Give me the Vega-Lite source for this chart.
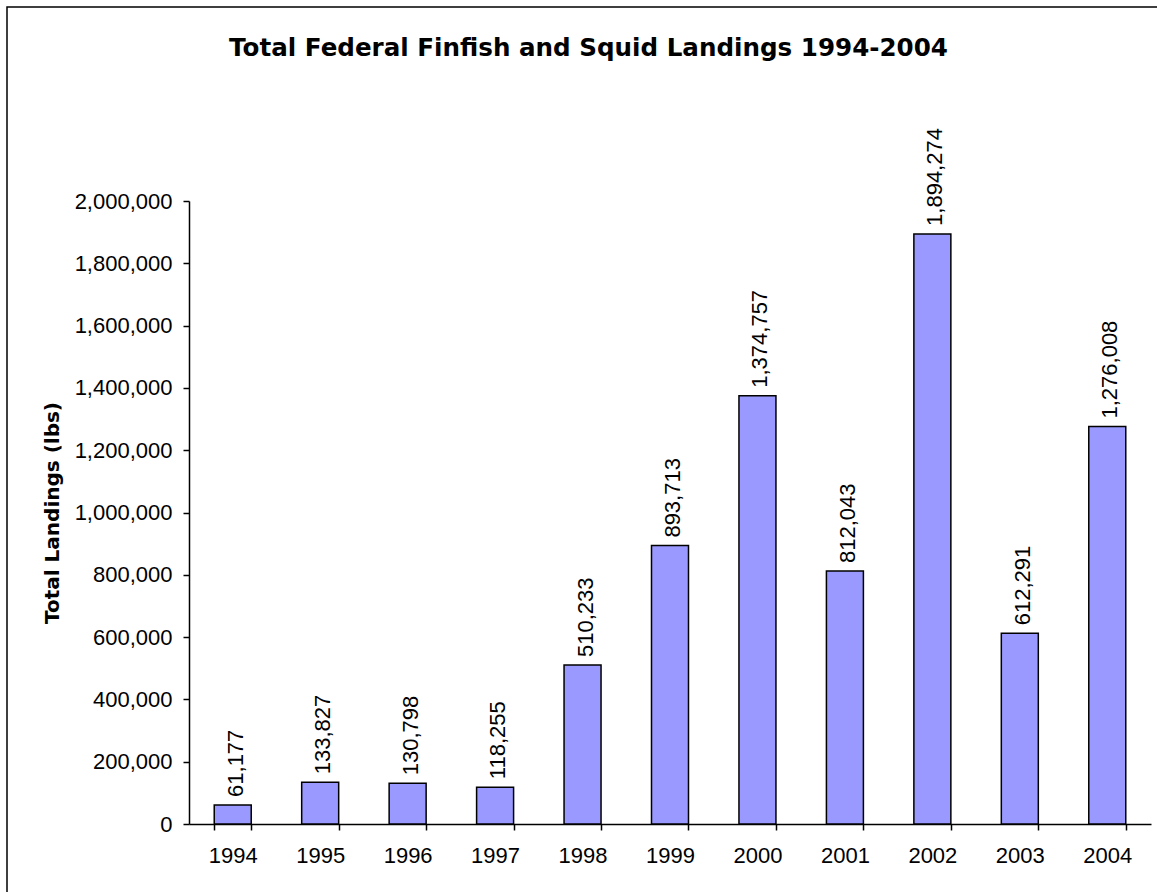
{
  "$schema": "https://vega.github.io/schema/vega-lite/v6.json",
  "autosize": {"type": "none"},
  "padding": {"left": 7, "top": 7, "right": -3, "bottom": -3},
  "width": 1153,
  "height": 888,
  "background": "white",
  "title": {
    "text": "Total Federal Finfish and Squid Landings 1994-2004",
    "font": "DejaVu Sans",
    "fontSize": 24.6,
    "fontWeight": "bold",
    "color": "#000000",
    "anchor": "middle",
    "frame": "group",
    "baseline": "alphabetic",
    "offset": -74,
    "dx": 5
  },
  "config": {
    "view": {"stroke": "#000000", "strokeWidth": 1.5, "fill": "white"},
    "font": "Liberation Sans"
  },
  "data": {
    "values": [
      {"year": "1994", "landings": 61177},
      {"year": "1995", "landings": 133827},
      {"year": "1996", "landings": 130798},
      {"year": "1997", "landings": 118255},
      {"year": "1998", "landings": 510233},
      {"year": "1999", "landings": 893713},
      {"year": "2000", "landings": 1374757},
      {"year": "2001", "landings": 812043},
      {"year": "2002", "landings": 1894274},
      {"year": "2003", "landings": 612291},
      {"year": "2004", "landings": 1276008}
    ]
  },
  "encoding": {
    "x": {
      "field": "year",
      "type": "ordinal",
      "scale": {"range": [182, 1144], "paddingInner": 0.577, "paddingOuter": 0.2885},
      "axis": {
        "title": null,
        "labelAngle": 0,
        "tickBand": "extent",
        "tickSize": 6,
        "tickColor": "#000000",
        "tickWidth": 1.5,
        "labelPadding": 15,
        "labelFont": "Liberation Sans",
        "labelFontSize": 22,
        "labelColor": "#000000",
        "domainColor": "#000000",
        "domainWidth": 1.5,
        "offset": -71
      }
    },
    "y": {
      "field": "landings",
      "type": "quantitative",
      "scale": {"domain": [0, 2000000], "range": [817, 194], "nice": false},
      "axis": {
        "title": "Total Landings (lbs)",
        "titleFont": "DejaVu Sans",
        "titleFontSize": 20,
        "titleFontWeight": "bold",
        "titleColor": "#000000",
        "titlePadding": 12,
        "values": [0, 200000, 400000, 600000, 800000, 1000000, 1200000, 1400000, 1600000, 1800000, 2000000],
        "format": ",d",
        "grid": false,
        "tickSize": 6,
        "tickColor": "#000000",
        "tickWidth": 1.5,
        "labelPadding": 11,
        "labelFont": "Liberation Sans",
        "labelFontSize": 22,
        "labelColor": "#000000",
        "domainColor": "#000000",
        "domainWidth": 1.5,
        "offset": -182
      }
    }
  },
  "layer": [
    {"mark": {"type": "bar", "fill": "#9999FF", "stroke": "#000000", "strokeWidth": 1.5}},
    {
      "mark": {"type": "text", "angle": 270, "align": "left", "baseline": "middle", "dx": 8, "dy": 3, "fontSize": 22, "font": "Liberation Sans", "color": "#000000"},
      "encoding": {"text": {"field": "landings", "type": "quantitative", "format": ","}}
    }
  ]
}
